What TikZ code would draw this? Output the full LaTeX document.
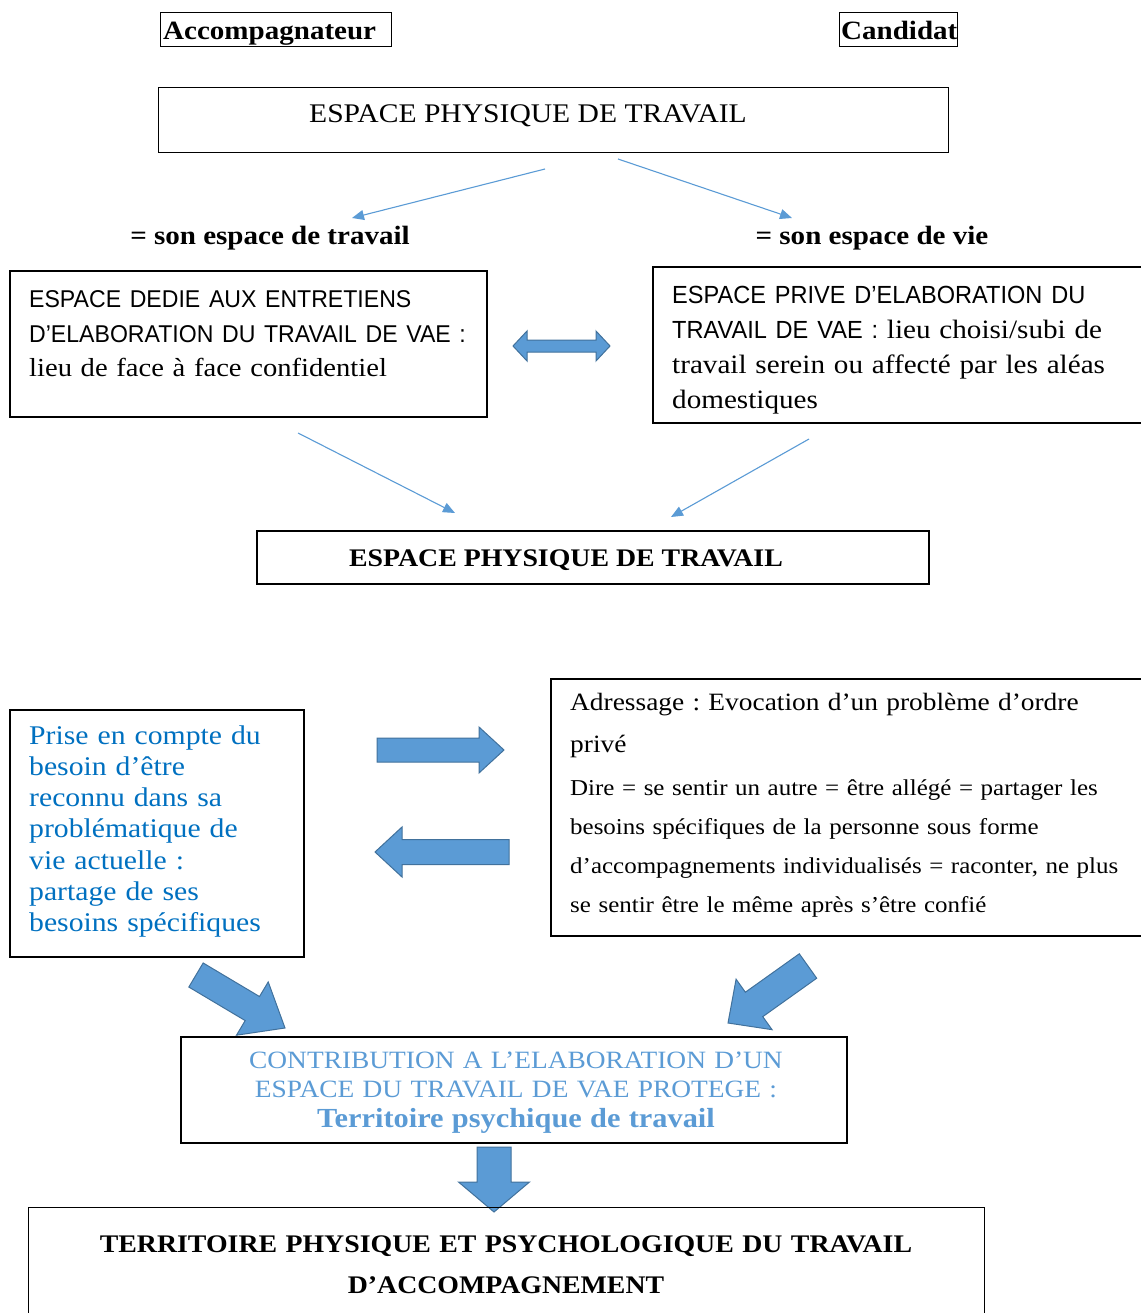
\documentclass[tikz,border=0pt]{standalone}
\usepackage{fontspec}
\setmainfont{Liberation Serif}[FakeStretch=1.1]
\setsansfont{Liberation Sans}[FakeStretch=0.95]
\frenchspacing
\usetikzlibrary{calc,arrows.meta}
\definecolor{arrfill}{RGB}{91,155,213}
\definecolor{arrdraw}{RGB}{65,113,156}
\definecolor{thinblue}{RGB}{91,155,213}
\definecolor{txtblue}{RGB}{0,112,192}
\definecolor{lightblue}{RGB}{91,155,213}
\newcommand\fsz[2]{\fontsize{#1}{#2}\selectfont}
% block arrow: #1 tail centre, #2 tip, #3 shaft half width, #4 head half width, #5 head length
\newcommand\blockarr[5]{%
  \coordinate (bah) at ($(#2)!#5!(#1)$);
  \draw[blockarrow] ($(#1)!#3!90:(#2)$) -- ($(bah)!#3!90:(#2)$) -- ($(bah)!#4!90:(#2)$) -- (#2)
    -- ($(bah)!#4!-90:(#2)$) -- ($(bah)!#3!-90:(#2)$) -- ($(#1)!#3!-90:(#2)$) -- cycle;}
% double arrow: #1,#2 tips, #3 shaft half, #4 head half, #5 head length
\newcommand\dblarr[5]{%
  \coordinate (dha) at ($(#1)!#5!(#2)$);
  \coordinate (dhb) at ($(#2)!#5!(#1)$);
  \draw[blockarrow] (#1) -- ($(dha)!#4!90:(#2)$) -- ($(dha)!#3!90:(#2)$) -- ($(dhb)!#3!-90:(#1)$)
    -- ($(dhb)!#4!-90:(#1)$) -- (#2) -- ($(dhb)!#4!90:(#1)$) -- ($(dhb)!#3!90:(#1)$)
    -- ($(dha)!#3!-90:(#2)$) -- ($(dha)!#4!-90:(#2)$) -- cycle;}
\begin{document}
\begin{tikzpicture}[x=1pt,y=-1pt,
  box/.style={draw=black, line width=1.6pt, inner sep=0pt, anchor=north west},
  lbl/.style={inner sep=0pt, anchor=base},
  para/.style={inner sep=0pt, anchor=base west, align=left, text width=620pt},
  cpara/.style={inner sep=0pt, anchor=base, align=center, text width=900pt},
  thinarr/.style={draw=thinblue, line width=1.1pt, -{Triangle[length=12pt,width=10pt]}},
  blockarrow/.style={fill=arrfill, draw=arrdraw, line width=1pt, line join=miter}]
\useasboundingbox (0,0) rectangle (1140,1313);

% header labels
\node[box, line width=1.2pt, minimum width={391-160}, minimum height={46-12}] (accbox) at (160,12) {};
\node[lbl, anchor=base west, font=\bfseries\fsz{26.4}{30}] (acctxt) at (163,40) {Accompagnateur};
\node[box, line width=1.2pt, minimum width={957-839}, minimum height={46-12}] (candbox) at (839,12) {};
\node[lbl, anchor=base west, font=\bfseries\fsz{26.4}{30}] (candtxt) at (841,40) {Candidat};

% top box
\node[box, line width=1.2pt, minimum width={948-158}, minimum height={152-87}] (top) at (158,87) {};
\node[lbl, font=\fsz{26.9}{30}] (toptxt) at (528,123) {ESPACE PHYSIQUE DE TRAVAIL};

\node[lbl, font=\bfseries\fsz{26.4}{30}] (sontrav) at (270,245) {= son espace de travail};
\node[lbl, font=\bfseries\fsz{26.4}{30}] (sonvie) at (872,245) {= son espace de vie};

\coordinate (a1s) at (545,169); \coordinate (a1t) at (352,218);
\coordinate (a2s) at (618,159); \coordinate (a2t) at (792,218);
\draw[thinarr] (a1s) -- (a1t);
\draw[thinarr] (a2s) -- (a2t);

% second row boxes
\node[box, minimum width={486-9}, minimum height={416-270}] (ded) at (9,270) {};
\node[para, font=\fsz{26}{34.5}] (dedtxt) at (29,308)
  {{\sffamily\fsz{24.3}{34.5}ESPACE DEDIE AUX ENTRETIENS\\ D’ELABORATION DU TRAVAIL DE VAE :}\\
   lieu de face à face confidentiel};
\node[box, minimum width={1160-652}, minimum height={422-266}] (priv) at (652,266) {};
\node[para, font=\fsz{26.5}{34.7}] (privtxt) at (672,304)
  {{\sffamily\fsz{24.8}{34.7}ESPACE PRIVE D’ELABORATION DU\\ TRAVAIL DE VAE :} lieu choisi/subi de\\
   travail serein ou affecté par les aléas\\ domestiques};

\coordinate (dl) at (513,346); \coordinate (dr) at (610,346);
\dblarr{dl}{dr}{6pt}{15pt}{14pt}

\coordinate (a3s) at (298,433); \coordinate (a3t) at (455,513);
\coordinate (a4s) at (809,439); \coordinate (a4t) at (671,517);
\draw[thinarr] (a3s) -- (a3t);
\draw[thinarr] (a4s) -- (a4t);

\node[box, minimum width={928-256}, minimum height={583-530}] (phys) at (256,530) {};
\node[lbl, font=\bfseries\fsz{25.3}{30}] (phystxt) at (566,566) {ESPACE PHYSIQUE DE TRAVAIL};

% lower part
\node[box, minimum width={303-9}, minimum height={956-709}] (prise) at (9,709) {};
\node[para, text=txtblue, font=\fsz{27}{31.3}] (prisetxt) at (29,744)
  {Prise en compte du\\ besoin d’être\\ reconnu dans sa\\ problématique de\\ vie actuelle :\\ partage de ses\\ besoins spécifiques};

\node[box, minimum width={1160-550}, minimum height={935-678}] (adr) at (550,678) {};
\node[para, font=\fsz{24.9}{42}] (adrtxt) at (570,710)
  {Adressage : Evocation d’un problème d’ordre\\ privé};
\node[para, font=\fsz{22.7}{39.3}] (diretxt) at (570,795)
  {Dire = se sentir un autre = être allégé = partager les\\
   besoins spécifiques de la personne sous forme\\
   d’accompagnements individualisés = raconter, ne plus\\
   se sentir être le même après s’être confié};

\coordinate (mrs) at (377,750); \coordinate (mrt) at (504,750);
\blockarr{mrs}{mrt}{12pt}{23pt}{25pt}
\coordinate (mls) at (509,852); \coordinate (mlt) at (375,852);
\blockarr{mls}{mlt}{12.5pt}{25pt}{27pt}

\coordinate (dls) at (196,975); \coordinate (dlt) at (285,1028);
\blockarr{dls}{dlt}{14pt}{31pt}{38pt}
\coordinate (drs) at (808,966); \coordinate (drt) at (728,1023);
\blockarr{drs}{drt}{15pt}{31pt}{32pt}

\node[box, minimum width={846-180}, minimum height={1142-1036}] (contrib) at (180,1036) {};
\node[cpara, text=lightblue, font=\fsz{24.9}{29.5}] (contribtxt) at (516,1068)
  {CONTRIBUTION A L’ELABORATION D’UN\\ ESPACE DU TRAVAIL DE VAE PROTEGE :\\
   {\bfseries\fsz{27.6}{29.5}Territoire psychique de travail}};

\coordinate (dns) at (494,1147); \coordinate (dnt) at (494,1212);
\blockarr{dns}{dnt}{17pt}{35.5pt}{30pt}

\node[box, line width=1.2pt, minimum width={984-28}, minimum height={1340-1207}] (terr) at (28,1207) {};
\node[cpara, font=\bfseries\fsz{25.3}{41}] (terrtxt) at (506,1252)
  {TERRITOIRE PHYSIQUE ET PSYCHOLOGIQUE DU TRAVAIL\\ D’ACCOMPAGNEMENT};
\end{tikzpicture}
\end{document}
